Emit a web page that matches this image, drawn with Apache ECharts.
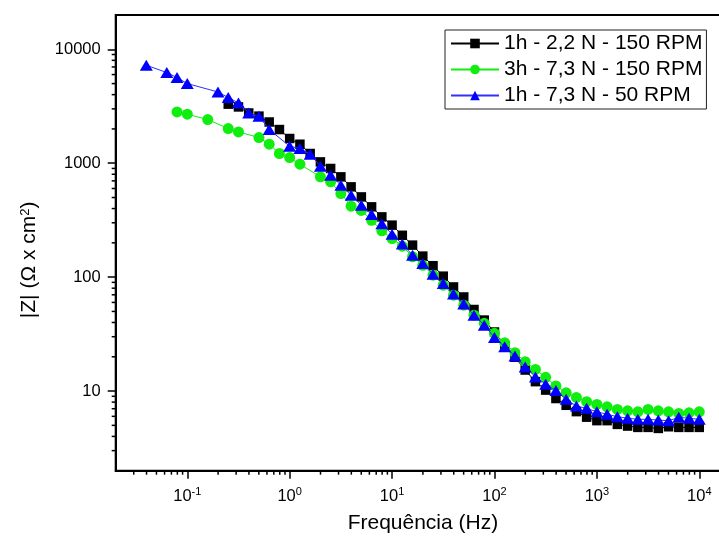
<!DOCTYPE html>
<html><head><meta charset="utf-8">
<script src="https://cdn.jsdelivr.net/npm/echarts@6/dist/echarts.min.js"></script>
<style>html,body{margin:0;padding:0;background:#fff}#c{width:719px;height:541px}</style>
</head><body><div id="c"></div>
<script>
// ---- data ----
const seriesNames = ['1h - 2,2 N - 150 RPM', '3h - 7,3 N - 150 RPM', '1h - 7,3 N - 50 RPM'];

const freqBlack = [0.2512,0.3162,0.3981,0.5012,0.631,0.7943,1,1.259,1.585,1.995,2.512,3.162,3.981,5.012,6.31,7.943,10,12.59,15.85,19.95,25.12,31.62,39.81,50.12,63.1,79.43,100,125.9,158.5,199.5,251.2,316.2,398.1,501.2,631,794.3,1000,1259,1585,1995,2512,3162,3981,5012,6310,7943,10000];
const zBlack = [3300,3120,2760,2590,2300,1975,1648,1468,1217,1027,899,759,620,506,414,338,286,233,191,153,126,102,82,67,52,42,33,25,19.8,15.3,12.1,10.2,8.6,7.5,6.6,5.9,5.5,5.5,5.1,4.93,4.8,4.8,4.7,4.86,4.8,4.8,4.8];

const freqGreen = [0.0794,0.1,0.1585,0.2512,0.3162,0.5012,0.631,0.7943,1,1.259,1.995,2.512,3.162,3.981,5.012,6.31,7.943,10,12.59,15.85,19.95,25.12,31.62,39.81,50.12,63.1,79.43,100,125.9,158.5,199.5,251.2,316.2,398.1,501.2,631,794.3,1000,1259,1585,1995,2512,3162,3981,5012,6310,7943,10000];
const zGreen = [2818,2692,2417,2015,1883,1680,1468,1217,1122,980,759,686,542,420,385,315,255,218,187,151,127,104,85,69.5,56.8,46.4,39.3,32.1,26.5,21.7,18.1,15.5,13.2,11.1,9.66,8.8,8.06,7.64,7.28,6.9,6.71,6.58,6.9,6.71,6.58,6.37,6.45,6.58];

const freqBlue = [0.0398,0.0631,0.0794,0.1,0.1995,0.2512,0.3162,0.3981,0.5012,0.631,1,1.259,1.585,1.995,2.512,3.162,3.981,5.012,6.31,7.943,10,12.59,15.85,19.95,25.12,31.62,39.81,50.12,63.1,79.43,100,125.9,158.5,199.5,251.2,316.2,398.1,501.2,631,794.3,1000,1259,1585,1995,2512,3162,3981,5012,6310,7943,10000];
const zBlue = [7244,6250,5648,5002,4220,3770,3380,2763,2585,1976,1409,1346,1199,942,785,641,524,428,355,294,238,195,156,132,106,88,71,58,46.4,37.9,29.5,24.5,20.3,16.3,13.3,11.5,10.1,8.46,7.4,7.05,6.58,6.25,5.96,5.77,5.65,5.65,5.57,5.49,5.88,5.77,5.65];

const xRange = [0.02, 20000];
const yRange = [2, 20000];
const xDecades = [-2,-1,0,1,2,3,4];
const yDecades = [0,1,2,3,4];
const minorMultipliers = [2,3,4,5,6,7,8,9];
const xAxisTitle = 'Frequência (Hz)';
const yAxisTitle = '|Z| (Ω x cm{sup|2})';

// ---- chart ----
const FONT = 'Liberation Sans, Arial, sans-serif';
const isPow10 = v => { const l = Math.log10(v); return Math.abs(l - Math.round(l)) < 1e-6; };
const pairs = (xs, ys) => xs.map((x, i) => [x, ys[i]]);

const chart = echarts.init(document.getElementById('c'), null, {renderer: 'canvas'});
const option = {
  animation: false,
  backgroundColor: '#fff',
  grid: {left: 115.7, top: 15, right: -11.1, bottom: 70.3, show: true, borderColor: '#000', borderWidth: 2, outerBoundsMode: 'none', containLabel: false},
  legend: {
    left: 445, top: 30, orient: 'vertical',
    itemWidth: 48, itemHeight: 12, itemGap: 5,
    padding: [3, 4, 3, 5],
    borderColor: '#222', borderWidth: 1,
    textStyle: {fontFamily: FONT, fontSize: 21, color: '#000'},
    data: seriesNames
  },
  xAxis: {
    type: 'log', logBase: 10, min: xRange[0], max: xRange[1],
    name: xAxisTitle, nameLocation: 'middle', nameGap: 42,
    nameTextStyle: {fontFamily: FONT, fontSize: 21, color: '#000'},
    axisLine: {lineStyle: {color: '#000', width: 2}},
    axisTick: {inside: false, length: 8, lineStyle: {color: '#000', width: 1.5}},
    splitLine: {show: false},
    axisLabel: {
      margin: 16, color: '#000', fontFamily: FONT, fontSize: 16.5, lineHeight: 20,
      showMinLabel: false, showMaxLabel: false,
      formatter: v => isPow10(v) ? '10{sup|' + Math.round(Math.log10(v)) + '}' : '',
      rich: {sup: {fontFamily: FONT, fontSize: 11, verticalAlign: 'top', lineHeight: 12, color: '#000'}}
    }
  },
  yAxis: {
    type: 'log', logBase: 10, min: yRange[0], max: yRange[1],
    name: yAxisTitle, nameLocation: 'middle', nameGap: 76,
    nameTextStyle: {fontFamily: FONT, fontSize: 21, color: '#000', padding: [0, 34, 0, 0],
      rich: {sup: {fontFamily: FONT, fontSize: 13, verticalAlign: 'top', lineHeight: 12, color: '#000'}}},
    axisLine: {lineStyle: {color: '#000', width: 2}},
    axisTick: {inside: false, length: 8, lineStyle: {color: '#000', width: 1.5}},
    splitLine: {show: false},
    axisLabel: {
      margin: 15, color: '#000', fontFamily: FONT, fontSize: 16.5,
      showMinLabel: false, showMaxLabel: false,
      formatter: v => isPow10(v) ? String(Math.round(v)) : ''
    }
  },
  series: [
    {name: seriesNames[0], type: 'line', data: pairs(freqBlack, zBlack), symbol: 'rect', symbolSize: 9.5,
     itemStyle: {color: '#000'}, lineStyle: {color: '#000', width: 1}, z: 2},
    {name: seriesNames[1], type: 'line', data: pairs(freqGreen, zGreen), symbol: 'circle', symbolSize: 11,
     itemStyle: {color: '#10ee10'}, lineStyle: {color: '#10ee10', width: 1}, z: 3},
    {name: seriesNames[2], type: 'line', data: pairs(freqBlue, zBlue), symbol: 'triangle', symbolSize: [13, 11],
     itemStyle: {color: '#0000ff'}, lineStyle: {color: '#3030ff', width: 1}, z: 4}
  ]
};
chart.setOption(option);

// minor log ticks (2..9 per decade) placed through the axis scales
const xAxisY = chart.convertToPixel({yAxisIndex: 0}, yRange[0]);
const yAxisX = chart.convertToPixel({xAxisIndex: 0}, xRange[0]);
const minors = [];
xDecades.forEach(d => minorMultipliers.forEach(m => {
  const v = m * Math.pow(10, d);
  if (v > xRange[0] && v < xRange[1]) {
    const px = chart.convertToPixel({xAxisIndex: 0}, v);
    minors.push({type: 'line', shape: {x1: px, y1: xAxisY, x2: px, y2: xAxisY + 4}, style: {stroke: '#000', lineWidth: 1.5}, silent: true, z: 10});
  }
}));
yDecades.forEach(d => minorMultipliers.forEach(m => {
  const v = m * Math.pow(10, d);
  if (v > yRange[0] && v < yRange[1]) {
    const py = chart.convertToPixel({yAxisIndex: 0}, v);
    minors.push({type: 'line', shape: {x1: yAxisX - 4, y1: py, x2: yAxisX, y2: py}, style: {stroke: '#000', lineWidth: 1.5}, silent: true, z: 10});
  }
}));
chart.setOption({graphic: minors});
</script></body></html>
